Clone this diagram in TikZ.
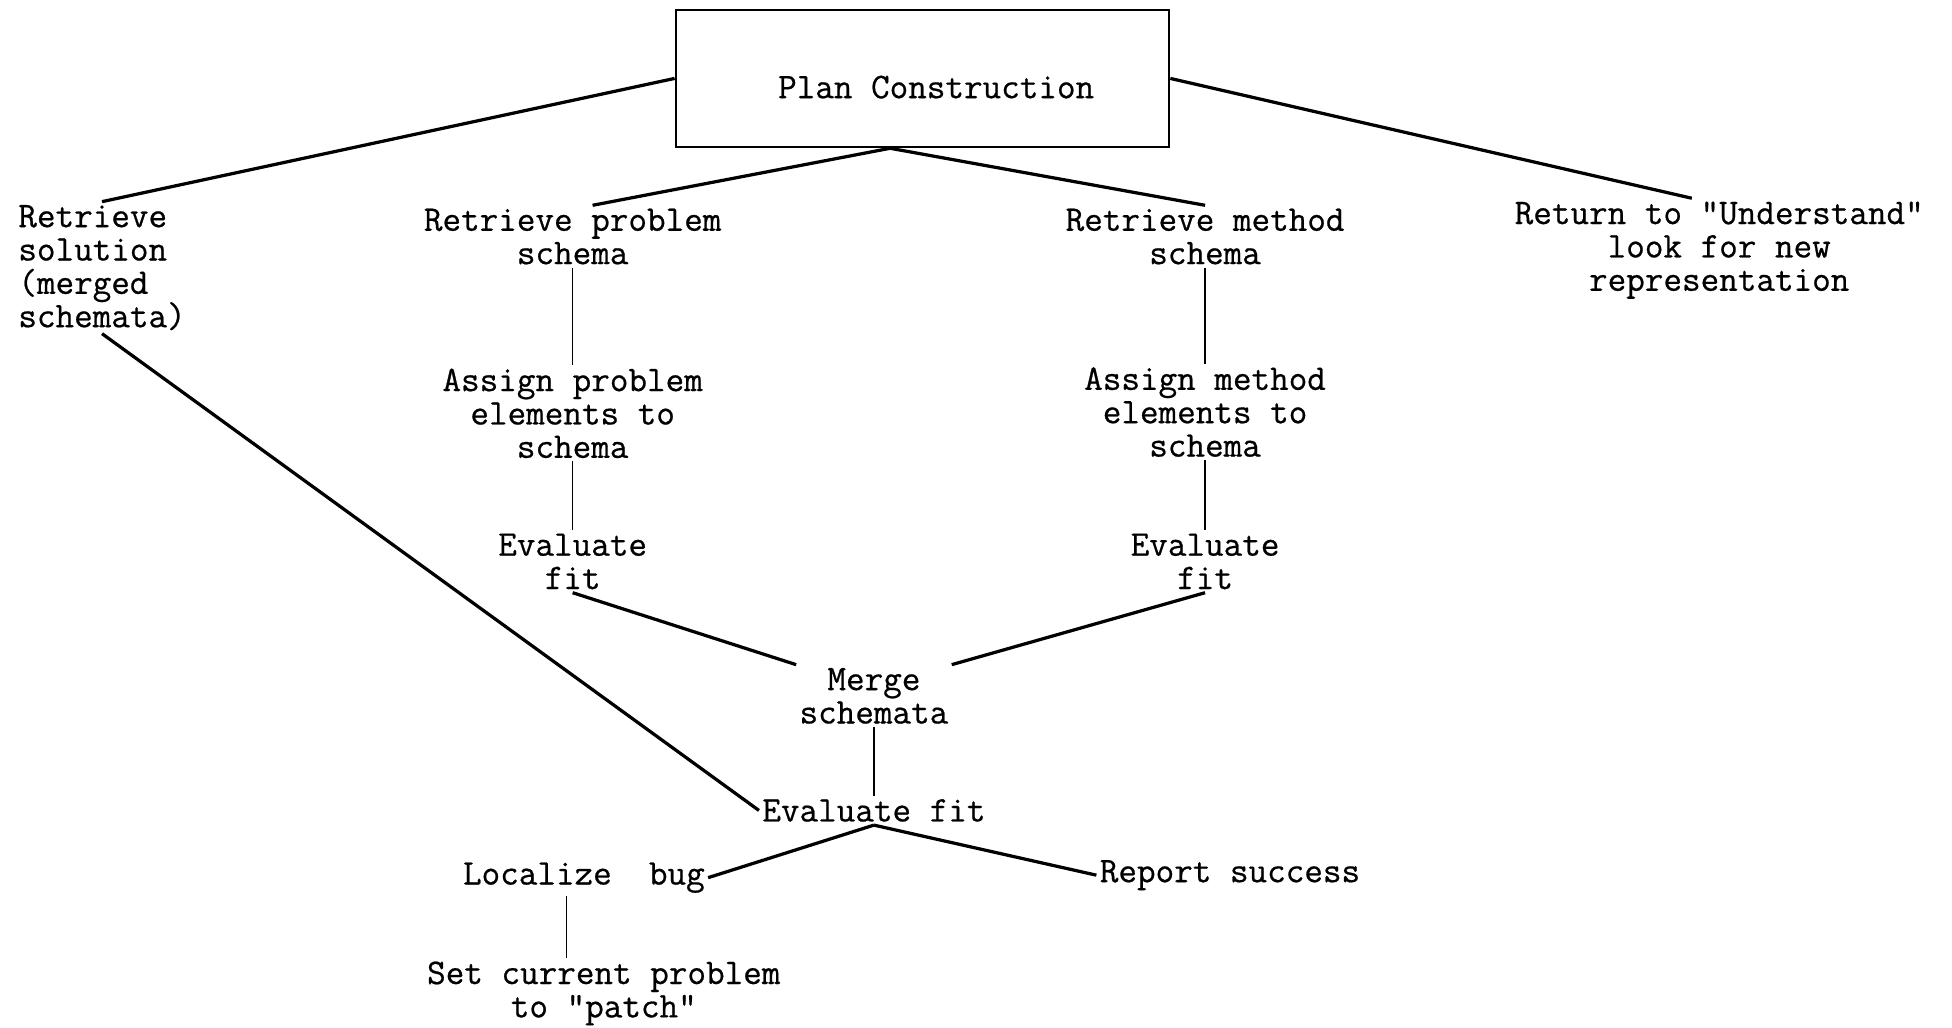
\documentclass[tikz,border=0pt]{standalone}
\usepackage{fontspec}
\setmonofont[FakeBold=0.6]{Latin Modern Mono}
\tikzset{every picture/.style={line width=0.75pt}}
\tikzset{
  txt/.style={font=\fontsize{14.5}{13.4}\selectfont\ttfamily, align=center, inner sep=1pt},
  link/.style={line width=1.3pt},
  stem/.style={line width=0.6pt}
}

\begin{document}
\begin{tikzpicture}[x=0.5pt,y=0.5pt,yscale=-1,xscale=1]
\useasboundingbox (0,0) rectangle (1568,825);

% Text Node
\node [txt, draw, line width=1.1pt, minimum width=198pt, minimum height=55pt] (plan) at (741,63) {\hspace{11pt}\raisebox{-3.5pt}[\height][\depth]{Plan Construction}};
% Text Node
\node [txt, align=left, anchor=west] (solution) at (12,215) {Retrieve\\solution\\(merged\\schemata)};
% Text Node
\node [txt] (probret) at (460,190) {Retrieve problem\\schema};
% Text Node
\node [txt] (methret) at (968,190) {Retrieve method\\schema};
% Text Node
\node [txt] (understand) at (1381,201) {Return to "Understand"\\look for new\\representation};
% Text Node
\node [txt] (probassign) at (460,332) {Assign problem\\elements to\\schema};
% Text Node
\node [txt] (methassign) at (968,331) {Assign method\\elements to\\schema};
% Text Node
\node [txt] (probeval) at (460,451) {Evaluate\\fit};
% Text Node
\node [txt] (metheval) at (968,451) {Evaluate\\fit};
% Text Node
\node [txt] (merge) at (702,559) {Merge\\schemata};
% Text Node
\node [txt] (evalfit) at (702,651) {Evaluate fit};
% Text Node
\node [txt] (localize) at (469,705) {Localize\ \ bug};
% Text Node
\node [txt] (report) at (988,703) {Report success};
% Text Node
\node [txt] (setpatch) at (485,798) {Set current problem\\to "patch"};

% Connection
\draw [link] (plan.west) -- (solution.north);
% Connection
\draw [link] ([xshift=-13pt]plan.south) -- ([xshift=8pt]probret.north);
% Connection
\draw [link] ([xshift=-13pt]plan.south) -- (methret.north);
% Connection
\draw [link] (plan.east) -- ([xshift=-11pt]understand.north);
% Connection
\draw [stem] (probret) -- (probassign);
% Connection
\draw [stem] (probassign) -- (probeval);
% Connection
\draw [stem] (methret) -- (methassign);
% Connection
\draw [stem] (methassign) -- (metheval);
% Connection
\draw [link] (probeval.south) -- (merge.north west);
% Connection
\draw [link] (metheval.south) -- (merge.north east);
% Connection
\draw [stem] (merge) -- (evalfit);
% Connection
\draw [link] (solution.south) -- (evalfit.west);
% Connection
\draw [link] (evalfit.south) -- (localize.east);
% Connection
\draw [link] (evalfit.south) -- (report.west);
% Connection
\draw [stem] ([xshift=-7pt]localize.south) -- ([xshift=-7pt]localize.south |- setpatch.north);

\end{tikzpicture}
\end{document}
